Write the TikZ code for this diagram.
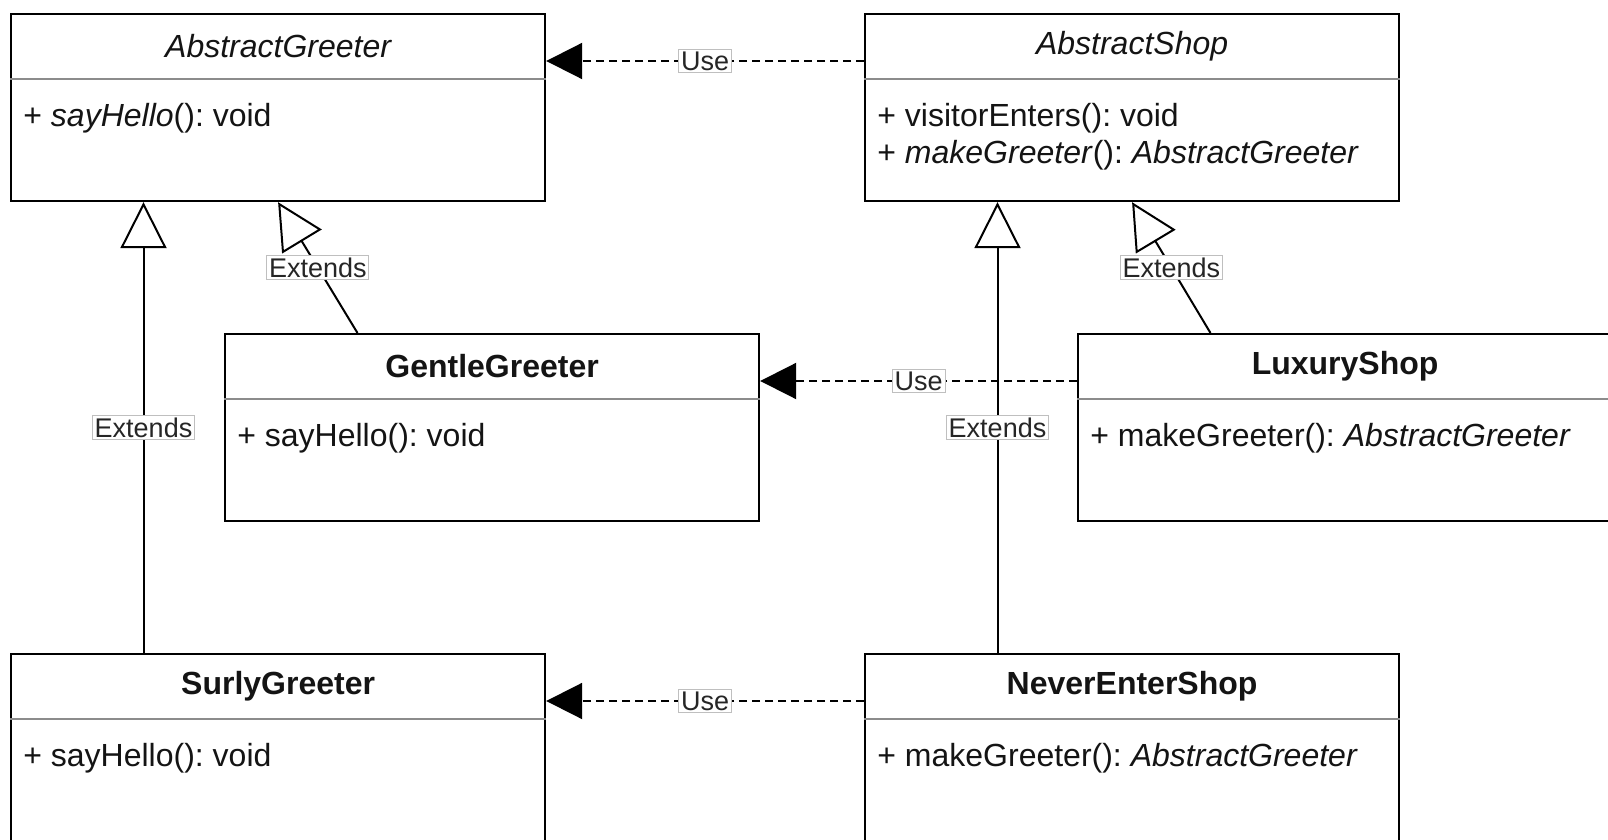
\documentclass[tikz,border=0pt]{standalone}
\usepackage{fontspec}
\setmainfont{Liberation Sans}
\usetikzlibrary{arrows.meta,calc}
\frenchspacing
\tikzset{
  classbox/.style={draw=black, line width=1.1pt, fill=white, minimum width=267pt,
    minimum height=93.5pt, inner sep=0pt, anchor=north west},
  sepline/.style={draw=black!45, line width=0.7pt},
  classtitle/.style={font=\fontsize{16}{19}\selectfont, inner sep=0pt, text=black!92},
  member/.style={font=\fontsize{16}{19}\selectfont, inner sep=0pt, anchor=west, text=black!92},
  conn/.style={line width=1pt, draw=black},
  uselink/.style={conn, dash pattern=on 4pt off 2.5pt, -{Triangle[length=18pt,width=18pt]}},
  extlink/.style={conn, -{Triangle[open, length=23pt, width=23pt, fill=white]}},
  edgelabel/.style={font=\fontsize{13.5}{15}\selectfont, fill=white, draw=black!25, solid,
    line width=0.5pt, inner sep=1.2pt, text=black!85},
}
% draws the title separator of a class box
\newcommand{\classsep}[1]{\draw[sepline] ($(#1.north west)+(0,66)$) -- ($(#1.north east)+(0,66)$);}
\begin{document}
\begin{tikzpicture}[x=0.5pt, y=-0.5pt]
\useasboundingbox (0,0) rectangle (1608,840);

% class boxes
\node[classbox] (ag)  at (10,13)   {};
\node[classbox] (as)  at (864,13)  {};
\node[classbox] (gg)  at (224,333) {};
\node[classbox] (ls)  at (1077,333){};
\node[classbox] (sg)  at (10,653)  {};
\node[classbox] (nes) at (864,653) {};
\classsep{ag}\classsep{as}\classsep{gg}\classsep{ls}\classsep{sg}\classsep{nes}

% titles
\node[classtitle] (agt)  at ($(ag.north)+(0,33)$)  {\itshape AbstractGreeter};
\node[classtitle] (ast)  at ($(as.north)+(0,33)$)  {\itshape AbstractShop};
\node[classtitle] (ggt)  at ($(gg.north)+(0,33)$)  {\bfseries GentleGreeter};
\node[classtitle] (lst)  at ($(ls.north)+(0,33)$)  {\bfseries LuxuryShop};
\node[classtitle] (sgt)  at ($(sg.north)+(0,33)$)  {\bfseries SurlyGreeter};
\node[classtitle] (nest) at ($(nes.north)+(0,33)$) {\bfseries NeverEnterShop};

% members
\node[member] (agm)  at ($(ag.north west)+(13,105)$)  {+ \textit{sayHello}(): void};
\node[member] (asm1) at ($(as.north west)+(13,105)$)  {+ visitorEnters(): void};
\node[member] (asm2) at ($(as.north west)+(13,142)$)  {+ \textit{makeGreeter}(): \textit{AbstractGreeter}};
\node[member] (ggm)  at ($(gg.north west)+(13,105)$)  {+ sayHello(): void};
\node[member] (lsm)  at ($(ls.north west)+(13,105)$)  {+ makeGreeter(): \textit{AbstractGreeter}};
\node[member] (sgm)  at ($(sg.north west)+(13,105)$)  {+ sayHello(): void};
\node[member] (nesm) at ($(nes.north west)+(13,105)$) {+ makeGreeter(): \textit{AbstractGreeter}};

% anchor points on the boxes
\coordinate (u1) at ($(as.north west)+(0,48)$);
\coordinate (u2) at ($(ls.north west)+(0,48)$);
\coordinate (u3) at ($(nes.north west)+(0,48)$);
\coordinate (e1) at ($(sg.north west)+(133.5,0)$);
\coordinate (e2) at ($(nes.north west)+(133.5,0)$);
\coordinate (e3) at ($(gg.north west)+(133.5,0)$);
\coordinate (e4) at ($(ls.north west)+(133.5,0)$);

% inheritance
\draw[extlink] (e1) -- (e1 |- ag.south) node[edgelabel, pos=0.5] {Extends};
\draw[extlink] (e2) -- (e2 |- as.south) node[edgelabel, pos=0.5] {Extends};
\draw[extlink] (e3) -- (ag.south) node[edgelabel, pos=0.5] {Extends};
\draw[extlink] (e4) -- (as.south) node[edgelabel, pos=0.5] {Extends};

% usage
\draw[uselink] (u1) -- (u1 -| ag.east) node[edgelabel, pos=0.5] {Use};
\draw[uselink] (u2) -- (u2 -| gg.east) node[edgelabel, pos=0.5] {Use};
\draw[uselink] (u3) -- (u3 -| sg.east) node[edgelabel, pos=0.5] {Use};
\end{tikzpicture}
\end{document}
